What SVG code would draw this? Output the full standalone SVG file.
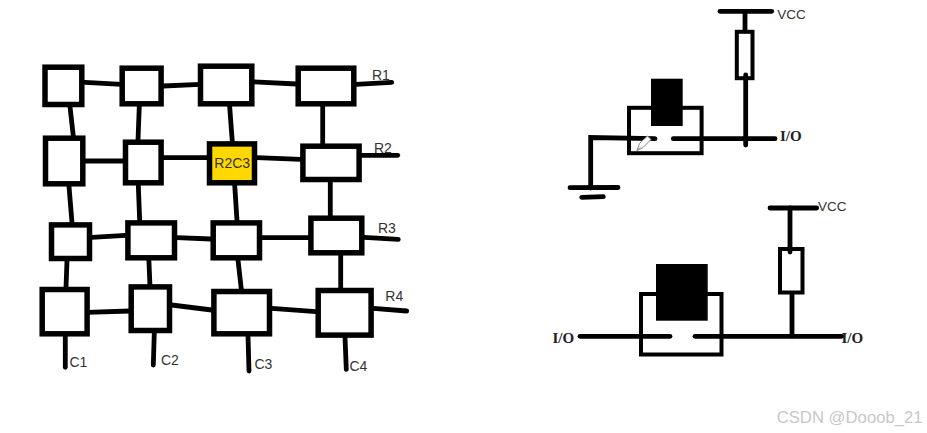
<svg xmlns="http://www.w3.org/2000/svg" width="927" height="433" viewBox="0 0 927 433">
<style>
.b{fill:#fff;stroke:#000;stroke-width:5.5}
.y{fill:#ffd800;stroke:#000;stroke-width:5.5}
.t{fill:none;stroke:#000;stroke-width:4}
.k{fill:#000;stroke:none}
.c line,.c path{fill:none;stroke:#000;stroke-width:4.8;stroke-linecap:round}
text{font-family:"Liberation Sans",Arial,sans-serif;font-size:14px;fill:#333}
.v{font-size:13.5px}
.io{font-family:"Liberation Serif","Times New Roman",serif;font-weight:bold;font-size:15px;fill:#222}
.w{font-size:16.7px;fill:#c8c8c8}
</style>
<rect width="927" height="433" fill="#fff"/>
<g id="connectors" class="c">
<line x1="85" y1="82.3" x2="121.7" y2="84.3"/><line x1="163.3" y1="86" x2="200" y2="84.3"/><line x1="250" y1="81.7" x2="296.7" y2="84"/><line x1="356" y1="84.3" x2="391.7" y2="82.3"/>
<line x1="85" y1="161" x2="123.3" y2="161"/><line x1="163.3" y1="157.7" x2="207.3" y2="157.7"/><line x1="256.7" y1="157.7" x2="300.7" y2="159.3"/><line x1="361.3" y1="155.3" x2="397.7" y2="155.3"/>
<line x1="91.7" y1="237.3" x2="125.7" y2="235.3"/><line x1="176.7" y1="237.7" x2="211" y2="239"/><line x1="261.7" y1="237.7" x2="308.7" y2="237.7"/><line x1="364" y1="237.3" x2="398.3" y2="239.3"/>
<line x1="86.7" y1="312.3" x2="130" y2="311"/><line x1="171.7" y1="305" x2="211.7" y2="310"/><line x1="271.7" y1="308.3" x2="316" y2="311.7"/><line x1="373.3" y1="308.3" x2="406.7" y2="311"/>
<line x1="70" y1="106.7" x2="73.3" y2="136"/><line x1="139.3" y1="106" x2="138" y2="140"/><line x1="229.3" y1="101.7" x2="232.3" y2="141.7"/><line x1="322.7" y1="106" x2="322.7" y2="144"/>
<line x1="68.7" y1="182.7" x2="72" y2="222.7"/><line x1="138.3" y1="185" x2="139.7" y2="220.7"/><line x1="234.7" y1="185" x2="237" y2="220.7"/><line x1="330.3" y1="181.7" x2="330.3" y2="221.7"/>
<line x1="67" y1="260.7" x2="66" y2="287.3"/><line x1="148.7" y1="256" x2="150" y2="286.7"/><line x1="238" y1="260" x2="241.3" y2="289.3"/><line x1="340.7" y1="251.7" x2="340.7" y2="288.3"/>
<line x1="65.3" y1="336" x2="65.3" y2="367.3"/><line x1="154.3" y1="332.7" x2="153.3" y2="365"/><line x1="248" y1="336" x2="249" y2="371"/><line x1="345" y1="337.3" x2="346.3" y2="369.3"/>
</g>
<g id="grid-nodes">
<g id="r1c1"><rect class="b" x="45" y="67.2" width="36.8" height="37.3"/></g>
<g id="r1c2"><rect class="b" x="122.2" y="68.2" width="38.9" height="35.6"/></g>
<g id="r1c3"><rect class="b" x="200.5" y="66.2" width="51.3" height="37.6"/></g>
<g id="r1c4"><rect class="b" x="298.2" y="68.2" width="55.6" height="35.6"/></g>
<g id="r2c1"><rect class="b" x="45.5" y="138.2" width="37.3" height="45.6"/></g>
<g id="r2c2"><rect class="b" x="125.5" y="142.2" width="35.6" height="40.6"/></g>
<g id="r2c3"><rect class="y" x="209.5" y="143.9" width="45" height="38.9"/><text x="214.3" y="168">R2C3</text></g>
<g id="r2c4"><rect class="b" x="302.9" y="146.2" width="56.2" height="33.3"/></g>
<g id="r3c1"><rect class="b" x="51.5" y="224.9" width="38" height="33.6"/></g>
<g id="r3c2"><rect class="b" x="127.9" y="222.9" width="46.6" height="34.9"/></g>
<g id="r3c3"><rect class="b" x="213.2" y="222.9" width="46.3" height="34.9"/></g>
<g id="r3c4"><rect class="b" x="310.9" y="218.2" width="50.9" height="34.6"/></g>
<g id="r4c1"><rect class="b" x="42.2" y="289.5" width="44.9" height="44.3"/></g>
<g id="r4c2"><rect class="b" x="131.2" y="286.9" width="38.3" height="43.6"/></g>
<g id="r4c3"><rect class="b" x="213.9" y="291.5" width="55.6" height="42.3"/></g>
<g id="r4c4"><rect class="b" x="318.2" y="290.5" width="52.9" height="44.6"/></g>
</g>
<g id="grid-labels">
<text x="372" y="80">R1</text><text x="374" y="152.5">R2</text><text x="378" y="232.5">R3</text><text x="385.300" y="300.500">R4</text>
<text x="69.500" y="366.500">C1</text><text x="161" y="365">C2</text><text x="254.500" y="369">C3</text><text x="349.500" y="371">C4</text>
</g>
<g id="top-circuit">
<g id="top-mos"><rect class="t" x="629" y="107.800" width="72.600" height="45.400"/><rect class="k" x="651" y="78.700" width="31.700" height="47.300"/></g>
<g id="top-res"><rect class="t" x="736.800" y="31.800" width="15.700" height="46.400"/></g>
<g class="c">
<line x1="720" y1="11.300" x2="771.700" y2="11.300"/><line x1="745" y1="11.300" x2="745" y2="31"/><line x1="745.700" y1="75" x2="745.700" y2="145"/>
<line x1="673.300" y1="138.700" x2="775" y2="138.700"/><path d="M655 138.700L590.700 137.500V188"/>
<line x1="570" y1="187.700" x2="618" y2="187.500"/><line x1="581.700" y1="197.300" x2="603.300" y2="196.700"/>
</g>
<path d="M637 150.500l2.500-7 8-7.500 3.500 3.500-8 8z" fill="#fff" stroke="#888" stroke-width="1"/>
<path d="M637 150.500l3-3" fill="none" stroke="#888" stroke-width="1"/>
<text class="v" x="777.300" y="19.300">VCC</text>
<text class="io" x="780" y="141.300">I/O</text>
</g>
<g id="bottom-circuit">
<g id="bot-mos"><rect class="t" x="641" y="294" width="80.500" height="60.500"/><rect class="k" x="656" y="264" width="51.700" height="56.700"/></g>
<g id="bot-res"><rect class="t" x="780" y="249" width="22.500" height="43.500"/></g>
<g class="c">
<line x1="770" y1="208" x2="816.700" y2="208"/><line x1="790" y1="208" x2="790" y2="252"/><line x1="792" y1="294" x2="792" y2="336"/>
<line x1="580" y1="336.300" x2="670" y2="336.300"/><line x1="695" y1="336.300" x2="841.700" y2="336.300"/>
</g>
<text class="v" x="818" y="210.700">VCC</text>
<text class="io" x="552.500" y="343">I/O</text>
<text class="io" x="841.500" y="343">I/O</text>
</g>
<text class="w" x="776.700" y="423.300">CSDN @Dooob_21</text>
</svg>
